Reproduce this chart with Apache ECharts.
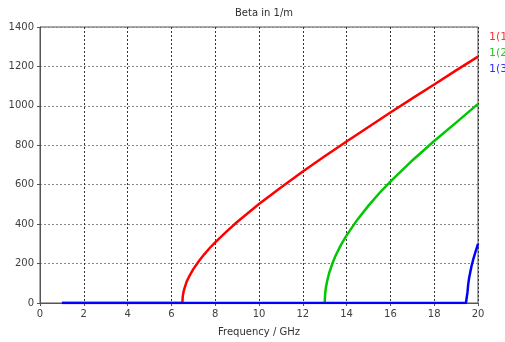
<!DOCTYPE html>
<html><head><meta charset="utf-8">
<script src="https://cdn.jsdelivr.net/npm/echarts@6/dist/echarts.min.js"></script>
<style>html,body{margin:0;padding:0;background:#fff}#c{width:505px;height:342px}</style>
</head><body><div id="c"></div>
<script>
const title = 'Beta in 1/m';
const xTitle = 'Frequency / GHz';
const seriesNames = ['1(1', '1(2', '1(3'];
const colors = ['#ff0000', '#00c800', '#0000ff'];
const labelColors = ['#ff3030', '#30c030', '#3030ff'];

const freq1 = [1, 6.5, 6.52, 6.56, 6.6, 6.7, 6.8, 7, 7.25, 7.5, 7.75, 8, 8.5, 9, 10, 11, 12, 13, 14, 15, 16, 17, 18, 19, 20];
const beta1 = [0, 0, 35, 60, 75, 110, 132, 172, 212, 247, 279, 308, 361, 411, 502, 586, 667, 744, 819, 893, 966, 1038, 1108, 1180, 1250];

const freq2 = [13, 13.02, 13.05, 13.1, 13.2, 13.35, 13.5, 13.75, 14, 14.5, 15, 15.5, 16, 17, 18, 19, 20];
const beta2 = [0, 45, 75, 105, 151, 200, 241, 296, 343, 424, 494, 558, 616, 723, 822, 915, 1010];

const freq3 = [1, 19.45, 19.5, 19.52, 19.55, 19.6, 19.7, 19.8, 19.9, 20];
const beta3 = [0, 0, 0, 55, 92, 131, 185, 228, 265, 300];

const xTicks = [0, 2, 4, 6, 8, 10, 12, 14, 16, 18, 20];
const yTicks = [0, 200, 400, 600, 800, 1000, 1200, 1400];

const zip = (a, b) => a.map((v, i) => [v, b[i]]);
const font = 'DejaVu Sans';
const chart = echarts.init(document.getElementById('c'), null, {renderer: 'canvas'});
const mk = (name, f, b, color) => ({
  name, type: 'line', data: zip(f, b), showSymbol: false, symbol: 'none',
  lineStyle: {color, width: 2.5}, itemStyle: {color}, smooth: false, animation: false
});
chart.setOption({
  animation: false,
  title: {text: title, left: 259, top: 3, textAlign: 'center',
    textStyle: {fontFamily: font, fontSize: 10, fontWeight: 'normal', color: '#303030'}},
  grid: {left: 40, right: 27, top: 27, bottom: 38, show: true, borderColor: '#555', borderWidth: 1},
  xAxis: {type: 'value', min: xTicks[0], max: xTicks[xTicks.length - 1], interval: 2,
    name: xTitle, nameLocation: 'middle', nameGap: 24,
    nameTextStyle: {fontFamily: font, fontSize: 10, color: '#303030'},
    axisLine: {lineStyle: {color: '#555'}},
    axisTick: {show: true, length: 3, lineStyle: {color: '#555'}},
    axisLabel: {fontFamily: font, fontSize: 10, color: '#404040', margin: 6, formatter: v => String(v)},
    splitLine: {show: true, lineStyle: {color: '#333', type: [2, 2], width: 1}}},
  yAxis: {type: 'value', min: yTicks[0], max: yTicks[yTicks.length - 1], interval: 200,
    axisLine: {show: true, lineStyle: {color: '#555'}},
    axisTick: {show: true, length: 3, lineStyle: {color: '#555'}},
    axisLabel: {fontFamily: font, fontSize: 10, color: '#404040', margin: 6, formatter: v => String(v)},
    splitLine: {show: true, lineStyle: {color: '#888', type: [2, 2], width: 1}}},
  graphic: seriesNames.map((n, i) => ({type: 'text', left: 489, top: 32 + i * 16,
    style: {text: n, fill: labelColors[i], font: '11px ' + font}})),
  series: [mk(seriesNames[0], freq1, beta1, colors[0]), mk(seriesNames[1], freq2, beta2, colors[1]), mk(seriesNames[2], freq3, beta3, colors[2])]
});
</script></body></html>
